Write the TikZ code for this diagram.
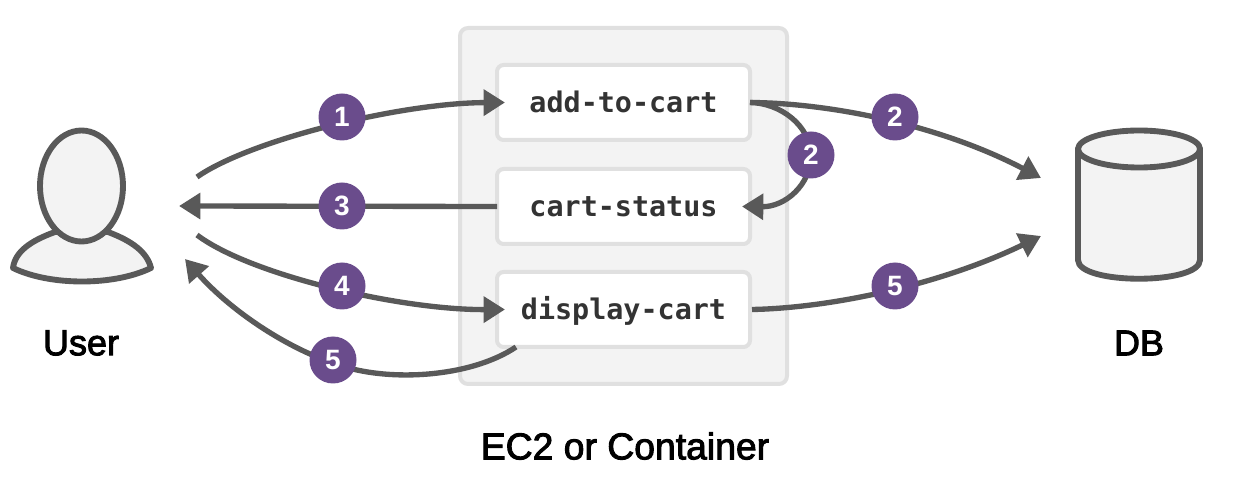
\documentclass[tikz,border=0pt]{standalone}
\usepackage{fontspec}
\setmainfont{Liberation Sans}
\newfontfamily\captionfont{Liberation Sans}[FakeBold=2.5]
\newfontfamily\codefont{DejaVu Sans Mono}[Scale=1]
\usetikzlibrary{arrows.meta,calc}
\definecolor{ink}{HTML}{595959}
\definecolor{pale}{HTML}{F3F3F3}
\definecolor{edge}{HTML}{E0E0E0}
\definecolor{badgeviolet}{HTML}{6A4C8C}
\definecolor{codeink}{HTML}{333333}
\tikzset{
  x=0.75pt,y=-0.75pt,
  holder/.style={draw=edge,fill=pale,line width=3pt,rounded corners=6pt},
  fn/.style={draw=edge,fill=white,line width=3pt,rounded corners=5pt,minimum width=189.75pt,minimum height=56.25pt,inner sep=0pt,outer sep=0pt,text height=19pt,text depth=3.8pt,text=codeink,font=\codefont\bfseries\fontsize{21.3}{24}\selectfont},
  flow/.style={draw=ink,line width=4pt,-{Triangle[length=16pt,width=19pt]}},
  shapeline/.style={draw=ink,fill=pale,line width=4.4pt,line join=round},
  badge/.style={circle,fill=badgeviolet,text=white,minimum size=35.25pt,inner sep=0pt,font=\bfseries\fontsize{21}{24}\selectfont},
  caption/.style={inner sep=0pt,text=black,font=\captionfont\fontsize{27}{32}\selectfont},
  wide caption/.style={inner sep=0pt,text=black,font=\captionfont\fontsize{28}{32}\selectfont}
}
\begin{document}
\begin{tikzpicture}
\useasboundingbox (0,0) rectangle (1247,488);
% container and functions
\draw[holder] (460,28) rectangle (787,384);
\node[fn] (add) at (623.5,102.5) {add-to-cart};
\node[fn] (cart) at (623.5,206.5) {cart-status};
\node[fn] (disp) at (623.5,309.5) {display-cart};
% user
\path[shapeline] (55,232) .. controls (30,241) and (15,252) .. (13,268)
  .. controls (50,286) and (114,286) .. (151,268)
  .. controls (147,252) and (132,241) .. (108,232) -- cycle;
\path[shapeline] (81.5,186) ellipse [x radius=41.5,y radius=55.5];
% database
\path[shapeline] (1078,149) -- (1078,260) .. controls (1078,285) and (1200,285) .. (1200,260) -- (1200,149) -- cycle;
\path[shapeline] (1139,149) ellipse [x radius=61,y radius=18.5];
% free ends
\coordinate (u1) at (197,177);
\coordinate (u3) at (179,206);
\coordinate (u4) at (197,235);
\coordinate (u5) at (185,259);
\coordinate (db2) at (1041,178);
\coordinate (db5) at (1041,236);
\coordinate (p5) at (333,363);
\coordinate (p2) at (811,155);
% connectors
\draw[flow] (u1) .. controls (250,140) and (400,103) .. ($(add.west)+(8,0)$);
\draw[flow] (cart.west) -- (u3);
\draw[flow] (u4) .. controls (250,275) and (400,310) .. ($(disp.west)+(8,0)$);
\draw[flow] ($(disp.south west)+(19,0)$) .. controls (470,378) and (385,383) .. (p5)
  .. controls (285,347) and (230,310) .. (u5);
\draw[flow] (add.east) .. controls (830,103) and (940,125) .. (db2);
\draw[flow] (add.east) .. controls (780,103) and (810,125) .. (p2)
  .. controls (811,185) and (785,207) .. ($(cart.east)+(-8,0)$);
\draw[flow] ($(disp.east)+(2,0)$) .. controls (830,308) and (940,285) .. (db5);
% badges
\node[badge] (b1) at (342,117) {1};
\node[badge] (b3) at (342,206) {3};
\node[badge] (b4) at (342,286) {4};
\node[badge] (b5a) at (333,360) {5};
\node[badge] (b2a) at (895,117) {2};
\node[badge] (b2b) at (811,155) {2};
\node[badge] (b5b) at (895,286) {5};
% captions
\node[caption] (user) at (81,343) {User};
\node[caption] (db) at (1139,343) {DB};
\node[wide caption] (ec2) at (625,446) {EC2 or Container};
\end{tikzpicture}
\end{document}
